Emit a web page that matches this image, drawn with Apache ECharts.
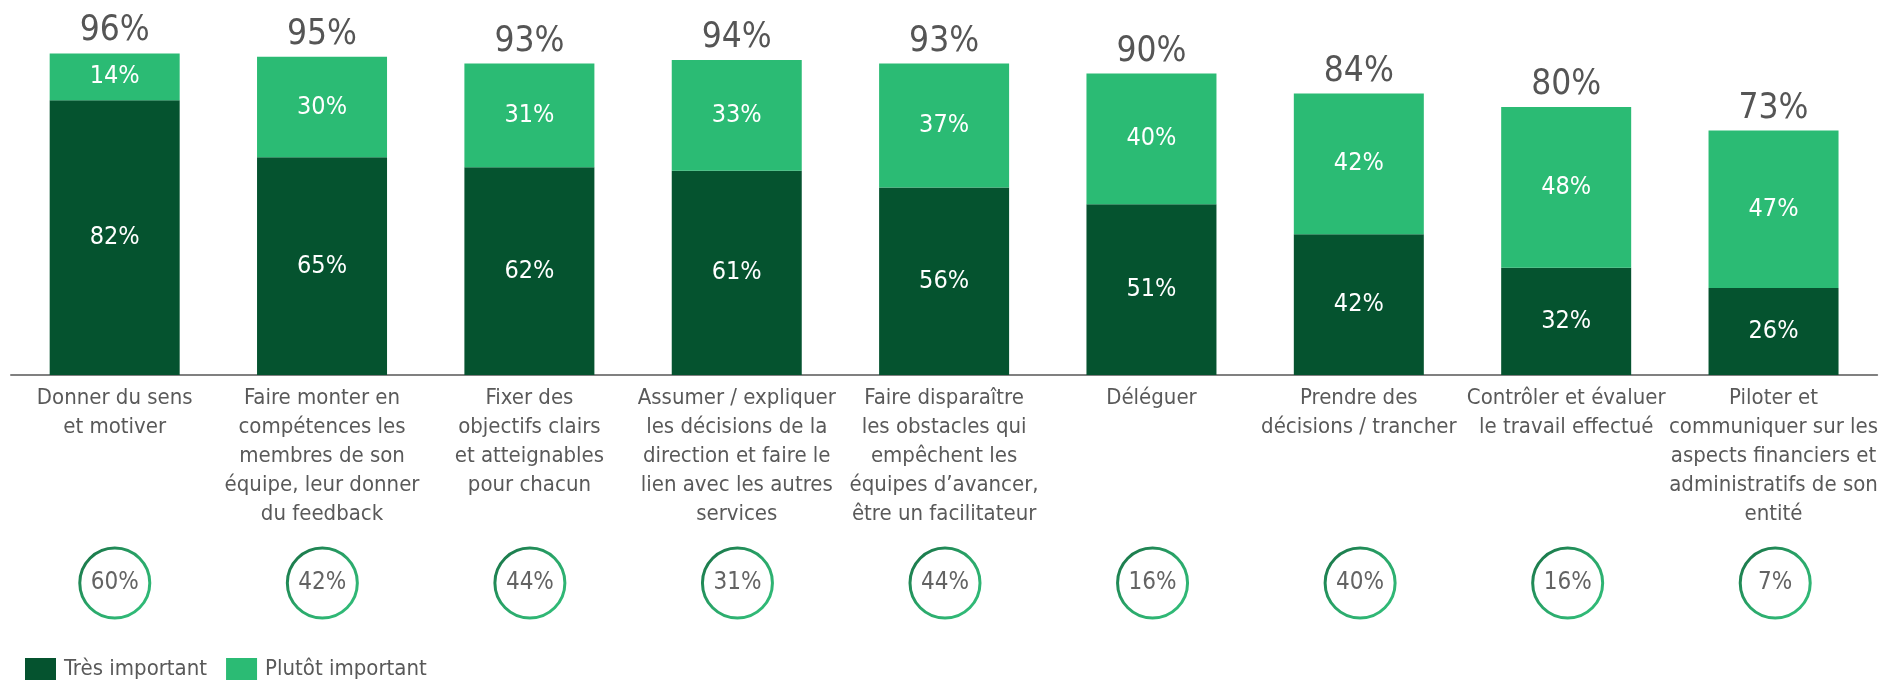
<!DOCTYPE html>
<html>
<head>
<meta charset="utf-8">
<script src="https://cdn.jsdelivr.net/npm/echarts@6/dist/echarts.min.js"></script>
<style>
  html, body { margin: 0; padding: 0; background: #fff; }
  #chart { width: 1881px; height: 680px; }
</style>
</head>
<body>
<div id="chart"></div>
<script>
// categories (line breaks as in the original)
var categories = [
  'Donner du sens\net motiver',
  'Faire monter en\ncompétences les\nmembres de son\néquipe, leur donner\ndu feedback',
  'Fixer des\nobjectifs clairs\net atteignables\npour chacun',
  'Assumer / expliquer\nles décisions de la\ndirection et faire le\nlien avec les autres\nservices',
  'Faire disparaître\nles obstacles qui\nempêchent les\néquipes d’avancer,\nêtre un facilitateur',
  'Déléguer',
  'Prendre des\ndécisions / trancher',
  'Contrôler et évaluer\nle travail effectué',
  'Piloter et\ncommuniquer sur les\naspects financiers et\nadministratifs de son\nentité'
];
var tresImportant = [82, 65, 62, 61, 56, 51, 42, 32, 26];
var plutotImportant = [14, 30, 31, 33, 37, 40, 42, 48, 47];
var totals = [96, 95, 93, 94, 93, 90, 84, 80, 73];
var circleValues = [60, 42, 44, 31, 44, 16, 40, 16, 7];

var FONT = "'Liberation Sans Narrow', 'DejaVu Sans Condensed', Roboto, sans-serif";
var GREY = '#595959';
var DARK = '#05532f';
var LIGHT = '#2bbb74';

// light segment is drawn up to the total (labels keep the rounded value)
var lightHeights = totals.map(function (t, i) { return t - tresImportant[i]; });

var chart = echarts.init(document.getElementById('chart'));

var option = {
  animation: false,
  textStyle: { fontFamily: FONT },
  legend: {
    left: 20,
    top: 653,
    itemWidth: 31,
    itemHeight: 23,
    itemGap: 19,
    icon: 'rect',
    textStyle: { fontFamily: FONT, fontSize: 22, color: GREY, padding: [0, 0, 0, 3] },
    data: ['Très important', 'Plutôt important']
  },
  grid: [
    { left: 11, right: 2, top: 40, bottom: 305 },
    { left: 11, right: 2, top: 548, height: 70 }
  ],
  xAxis: [{
    type: 'category',
    gridIndex: 0,
    data: categories,
    axisTick: { show: false },
    axisLine: { lineStyle: { color: '#808080', width: 2 } },
    axisLabel: {
      interval: 0,
      margin: 9,
      fontFamily: FONT,
      fontSize: 22,
      lineHeight: 29,
      color: GREY,
      align: 'center'
    }
  }, {
    type: 'category',
    gridIndex: 1,
    data: categories,
    show: false
  }],
  yAxis: [{
    type: 'value',
    gridIndex: 0,
    min: 0,
    max: 100,
    show: false,
    splitLine: { show: false }
  }, {
    type: 'value',
    gridIndex: 1,
    min: 0,
    max: 1,
    show: false,
    splitLine: { show: false }
  }],
  series: [{
    name: 'Très important',
    type: 'bar',
    stack: 'total',
    barWidth: 130,
    itemStyle: { color: DARK },
    label: {
      show: true,
      position: 'inside',
      color: '#fff',
      fontFamily: FONT,
      fontSize: 25,
      formatter: function (p) { return tresImportant[p.dataIndex] + '%'; }
    },
    data: tresImportant
  }, {
    name: 'Plutôt important',
    type: 'bar',
    stack: 'total',
    barWidth: 130,
    itemStyle: { color: LIGHT },
    label: {
      show: true,
      position: 'inside',
      color: '#fff',
      fontFamily: FONT,
      fontSize: 25,
      formatter: function (p) { return plutotImportant[p.dataIndex] + '%'; }
    },
    data: lightHeights
  }, {
    name: 'Total',
    type: 'scatter',
    symbolSize: 1,
    itemStyle: { color: 'rgba(0,0,0,0)', opacity: 1 },
    silent: true,
    label: {
      show: true,
      position: 'top',
      distance: 4,
      color: '#555555',
      fontFamily: FONT,
      fontSize: 35,
      formatter: function (p) { return totals[p.dataIndex] + '%'; }
    },
    data: totals
  }, {
    name: 'Cercles',
    type: 'scatter',
    xAxisIndex: 1,
    yAxisIndex: 1,
    symbol: 'circle',
    symbolSize: 70,
    silent: true,
    itemStyle: {
      color: '#fff',
      opacity: 1,
      borderWidth: 3,
      borderColor: new echarts.graphic.LinearGradient(0, 0, 1, 1, [
        { offset: 0, color: '#176b42' },
        { offset: 0.5, color: '#2aa76a' },
        { offset: 1, color: '#33c17c' }
      ])
    },
    label: {
      show: true,
      position: 'inside',
      color: '#636363',
      fontFamily: FONT,
      fontSize: 24,
      formatter: function (p) { return circleValues[p.dataIndex] + '%'; }
    },
    data: circleValues.map(function () { return 0.5; })
  }]
};

chart.setOption(option);
</script>
</body>
</html>
